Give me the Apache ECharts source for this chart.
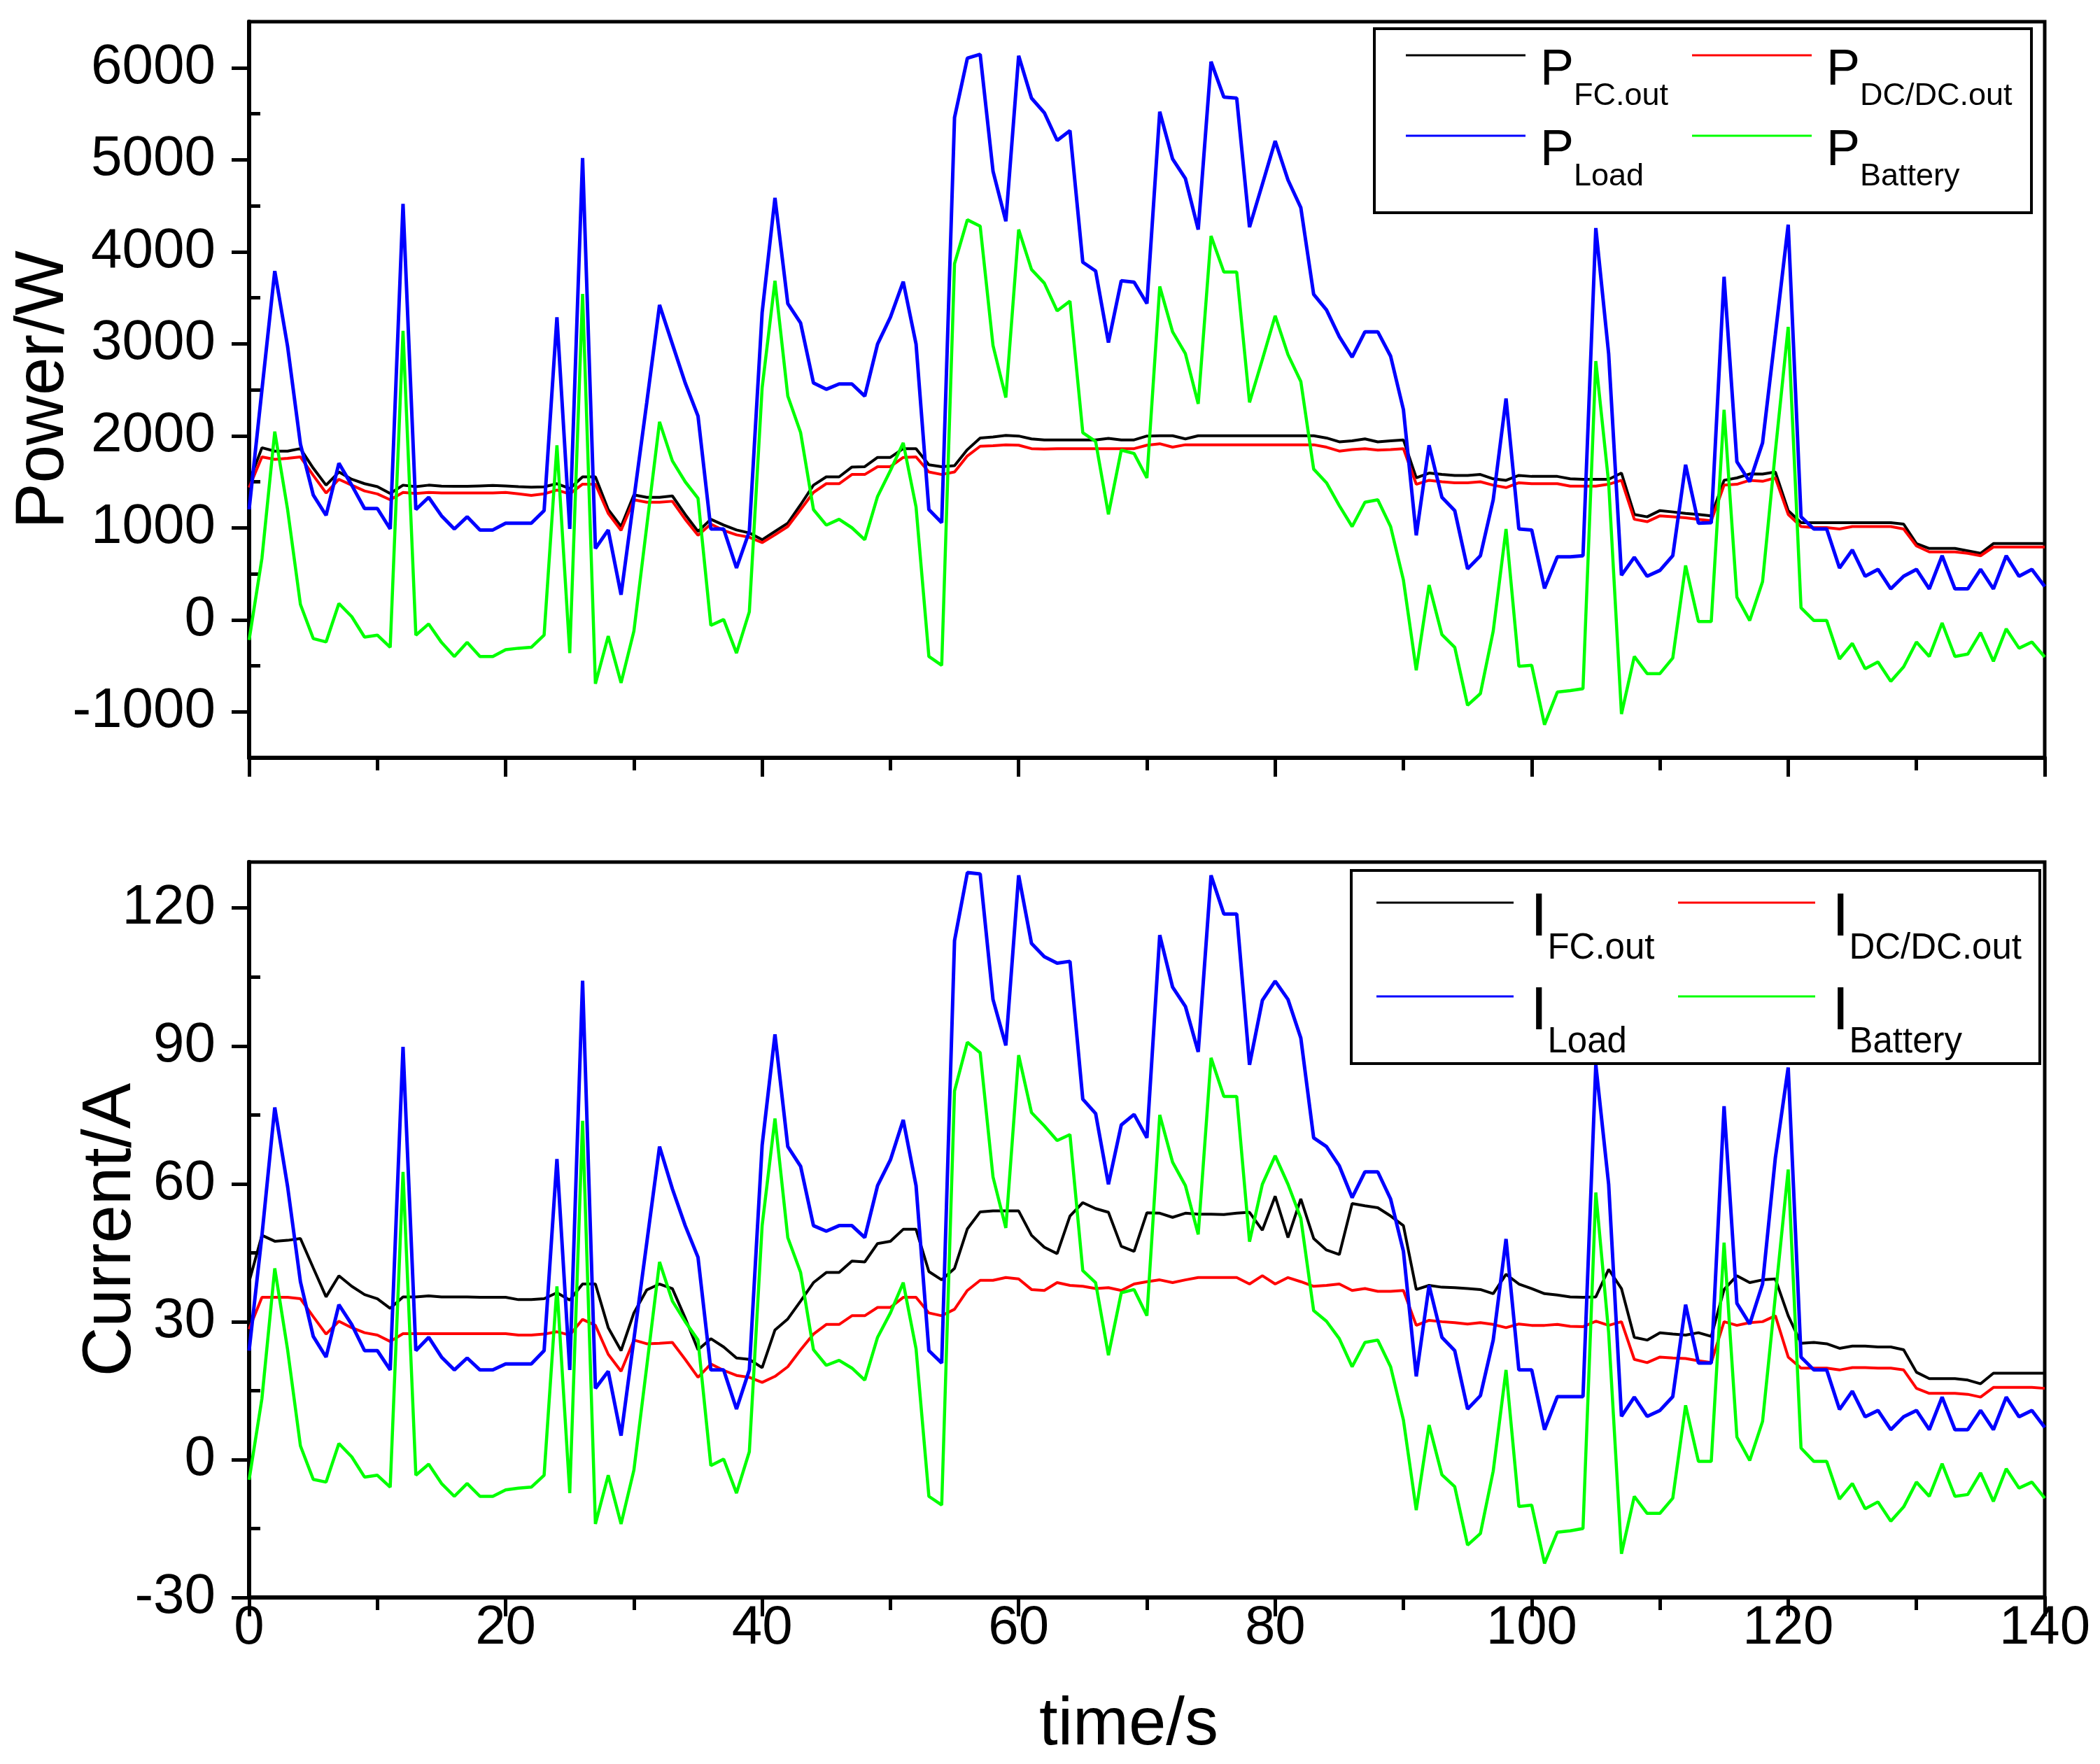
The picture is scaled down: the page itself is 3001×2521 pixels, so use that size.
<!DOCTYPE html>
<html>
<head>
<meta charset="utf-8">
<title>Power and current</title>
<script src="https://cdn.jsdelivr.net/npm/echarts@6/dist/echarts.min.js"></script>
<style>
  html, body { margin: 0; padding: 0; background: #fff; }
  #chart { width: 3001px; height: 2521px; }
</style>
</head>
<body>
<div id="chart"></div>
<script>
// sampling time (s)
const time = [
  0, 1, 2, 3, 4, 5, 6, 7, 8, 9,
  10, 11, 12, 13, 14, 15, 16, 17, 18, 19,
  20, 21, 22, 23, 24, 25, 26, 27, 28, 29,
  30, 31, 32, 33, 34, 35, 36, 37, 38, 39,
  40, 41, 42, 43, 44, 45, 46, 47, 48, 49,
  50, 51, 52, 53, 54, 55, 56, 57, 58, 59,
  60, 61, 62, 63, 64, 65, 66, 67, 68, 69,
  70, 71, 72, 73, 74, 75, 76, 77, 78, 79,
  80, 81, 82, 83, 84, 85, 86, 87, 88, 89,
  90, 91, 92, 93, 94, 95, 96, 97, 98, 99,
  100, 101, 102, 103, 104, 105, 106, 107, 108, 109,
  110, 111, 112, 113, 114, 115, 116, 117, 118, 119,
  120, 121, 122, 123, 124, 125, 126, 127, 128, 129,
  130, 131, 132, 133, 134, 135, 136, 137, 138, 139,
  140
]

// power (W)
const pFcOut = [
  1500, 1870, 1833, 1833, 1860, 1648, 1463, 1606, 1527, 1479,
  1447, 1373, 1463, 1447, 1463, 1452, 1450, 1450, 1455, 1460,
  1455, 1447, 1442, 1445, 1479, 1426, 1553, 1553, 1198, 1013,
  1357, 1331, 1331, 1346, 1145, 960, 1092, 1029, 976, 944,
  870, 960, 1050, 1251, 1463, 1553, 1553, 1660, 1664, 1765,
  1765, 1860, 1860, 1685, 1664, 1675, 1849, 1976, 1987, 2003,
  1997, 1966, 1955, 1955, 1955, 1955, 1955, 1971, 1955, 1955,
  1997, 2000, 2000, 1966, 2000, 2000, 2000, 2000, 2000, 2000,
  2000, 2000, 2000, 2000, 1976, 1934, 1945, 1966, 1934, 1945,
  1955, 1542, 1595, 1579, 1569, 1569, 1579, 1532, 1516, 1569,
  1558, 1558, 1558, 1532, 1527, 1527, 1527, 1595, 1145, 1119,
  1187, 1172, 1156, 1145, 1130, 1516, 1542, 1585, 1584, 1606,
  1187, 1055, 1055, 1055, 1055, 1055, 1055, 1055, 1055, 1040,
  828, 775, 775, 775, 749, 722, 828, 828, 828, 828,
  828
]
const pDcOut = [
  1437, 1770, 1743, 1754, 1770, 1569, 1378, 1527, 1463, 1400,
  1368, 1304, 1384, 1373, 1384, 1378, 1378, 1378, 1378, 1378,
  1384, 1368, 1352, 1368, 1410, 1368, 1474, 1474, 1156, 971,
  1304, 1278, 1278, 1288, 1092, 918, 1040, 971, 923, 897,
  839, 923, 1013, 1198, 1384, 1479, 1479, 1579, 1579, 1664,
  1664, 1765, 1770, 1606, 1579, 1606, 1781, 1886, 1892, 1902,
  1897, 1860, 1855, 1860, 1860, 1860, 1860, 1860, 1860, 1860,
  1897, 1913, 1876, 1902, 1902, 1902, 1902, 1902, 1902, 1902,
  1902, 1902, 1902, 1902, 1876, 1833, 1849, 1860, 1844, 1849,
  1860, 1473, 1516, 1500, 1489, 1489, 1500, 1463, 1437, 1489,
  1479, 1479, 1479, 1452, 1452, 1452, 1473, 1516, 1092, 1066,
  1130, 1119, 1108, 1092, 1076, 1463, 1473, 1516, 1505, 1542,
  1145, 1013, 1002, 1002, 987, 1013, 1013, 1013, 1013, 987,
  802, 738, 738, 738, 722, 696, 791, 791, 791, 791,
  791
]
const pLoad = [
  1200, 2500, 3790, 2970, 1910, 1357, 1135, 1701, 1463, 1209,
  1209, 987, 4521, 1198, 1331, 1130, 987, 1119, 976, 976,
  1050, 1050, 1050, 1187, 3288, 987, 5019, 775, 976, 272,
  1315, 2357, 3421, 2997, 2574, 2214, 987, 987, 563, 960,
  3341, 4585, 3437, 3225, 2574, 2505, 2563, 2563, 2431, 2997,
  3288, 3675, 2997, 1198, 1055, 5458, 6103, 6145, 4876, 4331,
  6130, 5669, 5511, 5209, 5315, 3886, 3791, 3013, 3685, 3669,
  3437, 5521, 5008, 4796, 4241, 6066, 5680, 5669, 4267, 4733,
  5204, 4780, 4479, 3537, 3368, 3077, 2854, 3130, 3130, 2865,
  2283, 918, 1897, 1331, 1187, 553, 696, 1304, 2405, 987,
  976, 341, 685, 685, 696, 4257, 2892, 484, 680, 473,
  537, 696, 1685, 1050, 1055, 3728, 1717, 1500, 1923, 3103,
  4294, 1119, 987, 987, 563, 759, 473, 548, 336, 473,
  548, 336, 696, 336, 336, 548, 336, 696, 473, 548,
  362
]
const pBattery = [
  -220, 669, 2045, 1198, 167, -204, -241, 177, 34, -188,
  -167, -299, 3140, -167, -45, -246, -399, -246, -399, -399,
  -325, -309, -299, -167, 1897, -362, 3542, -696, -177, -686,
  -124, 1013, 2151, 1727, 1500, 1320, -61, 3, -362, 87,
  2521, 3685, 2431, 2034, 1198, 1029, 1092, 1000, 870, 1341,
  1622, 1923, 1225, -399, -495, 3870, 4347, 4278, 2981, 2415,
  4241, 3807, 3659, 3357, 3463, 2034, 1939, 1145, 1844, 1807,
  1542, 3622, 3130, 2892, 2347, 4172, 3780, 3780, 2362, 2828,
  3304, 2881, 2590, 1638, 1489, 1241, 1013, 1278, 1304, 1013,
  431, -548, 378, -161, -299, -929, -802, -124, 987, -505,
  -495, -1140, -786, -770, -749, 2812, 1489, -1024, -399, -585,
  -585, -415, 590, -19, -19, 2283, 246, -8, 415, 1833,
  3183, 130, -8, -8, -426, -257, -532, -458, -669, -511,
  -241, -399, -34, -399, -373, -140, -452, -98, -309, -241,
  -405
]

// current (A)
const iFcOut = [
  38.7, 48.8, 47.5, 47.7, 48.1, 41.7, 35.4, 40.0, 37.7, 35.9,
  35.0, 32.9, 35.4, 35.4, 35.6, 35.4, 35.4, 35.4, 35.3, 35.3,
  35.3, 34.8, 34.8, 35.0, 36.3, 34.7, 38.2, 38.2, 28.7, 23.7,
  31.9, 36.9, 38.2, 37.2, 30.8, 23.9, 26.3, 24.5, 22.1, 21.8,
  20.0, 28.2, 30.6, 34.5, 38.5, 40.7, 40.7, 43.2, 43.0, 47.0,
  47.5, 50.1, 50.1, 40.9, 39.1, 41.6, 50.2, 53.9, 54.1, 54.1,
  54.1, 48.8, 46.2, 44.8, 53.0, 55.9, 54.6, 53.8, 46.4, 45.3,
  53.7, 53.6, 52.7, 53.6, 53.4, 53.4, 53.3, 53.6, 53.8, 49.9,
  57.3, 48.3, 56.7, 48.1, 45.6, 44.6, 55.7, 55.2, 54.8, 53.0,
  50.9, 37.0, 37.9, 37.5, 37.4, 37.2, 37.0, 36.1, 40.3, 38.2,
  37.2, 36.1, 35.8, 35.4, 35.3, 35.4, 41.4, 37.2, 26.6, 26.0,
  27.6, 27.3, 27.1, 27.6, 26.8, 37.0, 40.0, 38.5, 39.1, 39.3,
  31.3, 25.3, 25.5, 25.2, 24.2, 24.7, 24.7, 24.5, 24.5, 23.9,
  19.0, 17.6, 17.6, 17.6, 17.3, 16.5, 18.8, 18.8, 18.8, 18.8,
  18.8
]
const iDcOut = [
  28.4, 35.3, 35.3, 35.3, 35.0, 31.1, 27.3, 30.1, 28.7, 27.6,
  27.1, 25.7, 27.4, 27.4, 27.4, 27.4, 27.4, 27.4, 27.4, 27.4,
  27.4, 27.1, 27.1, 27.3, 27.8, 27.1, 30.5, 29.2, 22.9, 19.2,
  26.0, 25.2, 25.3, 25.5, 21.8, 17.9, 20.8, 19.4, 18.3, 17.9,
  16.8, 18.1, 20.2, 23.9, 27.3, 29.4, 29.4, 31.3, 31.3, 33.1,
  33.1, 35.3, 35.3, 31.9, 31.3, 32.7, 36.8, 39.0, 39.0, 39.6,
  39.3, 37.0, 36.8, 38.5, 37.9, 37.7, 37.2, 37.4, 36.8, 38.2,
  38.7, 39.1, 38.5, 39.1, 39.6, 39.6, 39.6, 39.6, 38.2, 40.0,
  38.2, 39.6, 38.7, 37.7, 37.9, 38.2, 36.8, 37.2, 36.6, 36.6,
  36.8, 29.2, 30.3, 30.0, 29.8, 29.5, 29.8, 29.4, 28.7, 29.5,
  29.2, 29.2, 29.4, 29.0, 28.9, 30.1, 29.2, 30.0, 21.8, 21.1,
  22.3, 22.1, 22.0, 21.5, 21.1, 30.0, 29.2, 29.8, 30.0, 31.3,
  22.3, 19.9, 19.9, 19.9, 19.5, 20.0, 20.0, 19.9, 19.9, 19.5,
  15.5, 14.4, 14.4, 14.4, 14.2, 13.6, 15.7, 15.7, 15.7, 15.7,
  15.5
]
const iLoad = [
  23.7, 48.8, 76.6, 59.4, 38.7, 26.8, 22.3, 33.7, 29.4, 23.7,
  23.7, 19.5, 89.8, 23.7, 26.6, 22.3, 19.5, 22.1, 19.5, 19.5,
  20.8, 20.8, 20.8, 23.7, 65.4, 19.5, 104.2, 15.5, 19.2, 5.2,
  26.2, 47.1, 68.1, 58.9, 50.9, 44.0, 19.5, 19.5, 11.0, 19.5,
  68.4, 92.5, 68.1, 63.8, 50.9, 49.7, 50.9, 50.9, 48.3, 59.6,
  65.2, 73.9, 59.6, 23.7, 21.0, 112.9, 127.7, 127.4, 100.1, 90.1,
  127.1, 112.3, 109.4, 108.0, 108.4, 78.4, 75.3, 59.9, 72.8, 75.1,
  70.0, 114.1, 102.8, 98.6, 88.7, 127.1, 118.7, 118.7, 85.9, 99.9,
  104.1, 100.1, 91.7, 70.0, 68.1, 63.9, 57.0, 62.6, 62.6, 56.7,
  45.3, 18.1, 37.9, 26.6, 23.7, 11.0, 13.9, 26.0, 48.0, 19.5,
  19.5, 6.5, 13.7, 13.7, 13.7, 85.9, 59.9, 9.4, 13.6, 9.4,
  10.7, 13.7, 33.7, 21.0, 21.0, 76.9, 34.0, 29.5, 38.2, 65.7,
  85.3, 22.3, 19.5, 19.5, 10.9, 14.9, 9.3, 10.7, 6.5, 9.3,
  10.7, 6.5, 13.6, 6.5, 6.5, 10.7, 6.5, 13.6, 9.3, 10.7,
  7.0
]
const iBattery = [
  -4.4, 13.3, 41.6, 23.9, 3.0, -4.3, -4.9, 3.5, 0.6, -3.8,
  -3.4, -6.0, 62.6, -3.4, -1.0, -5.2, -8.0, -5.2, -8.0, -8.0,
  -6.6, -6.2, -6.0, -3.4, 37.7, -7.3, 73.7, -14.0, -3.4, -14.0,
  -2.3, 20.2, 43.0, 34.5, 30.0, 26.0, -1.3, 0.1, -7.3, 1.7,
  50.9, 74.2, 48.3, 40.7, 23.9, 20.5, 21.6, 19.9, 17.3, 26.6,
  31.9, 38.5, 24.1, -8.0, -9.9, 80.2, 90.8, 88.5, 61.5, 50.4,
  88.0, 75.5, 72.6, 69.4, 70.7, 41.1, 38.5, 22.7, 36.3, 37.0,
  31.3, 75.0, 64.7, 59.6, 49.0, 87.4, 79.0, 79.0, 47.4, 59.9,
  66.1, 59.9, 52.5, 32.4, 30.1, 26.3, 20.2, 25.5, 26.0, 20.2,
  8.6, -11.0, 7.5, -3.3, -5.9, -18.6, -16.1, -2.5, 19.5, -10.2,
  -9.9, -22.6, -15.8, -15.5, -15.0, 58.1, 27.6, -20.5, -8.0, -11.7,
  -11.7, -8.4, 11.8, -0.4, -0.4, 47.2, 4.9, -0.2, 8.3, 35.6,
  63.1, 2.5, -0.4, -0.4, -8.6, -5.2, -10.7, -9.2, -13.4, -10.3,
  -4.9, -8.0, -0.9, -8.0, -7.6, -2.9, -9.1, -2.0, -6.2, -4.9,
  -8.4
]

// tick values
const powerMajor = [-1000, 0, 1000, 2000, 3000, 4000, 5000, 6000]
const powerMinor = [-500, 500, 1500, 2500, 3500, 4500, 5500]
const currentMajor = [-30, 0, 30, 60, 90, 120]
const currentMinor = [-15, 15, 45, 75, 105]

const seriesNames = ['FC.out', 'DC/DC.out', 'Load', 'Battery']
const seriesColors = ['#000000', '#ff0000', '#0000ff', '#00ff00']
const seriesWidths = [4, 4, 5, 4.5]

const FONT = '"Liberation Sans", Arial, sans-serif'

const pairs = (vals) => vals.map((v, i) => [time[i], v])

const chart = echarts.init(document.getElementById('chart'), null, { renderer: 'canvas' })

const xAxisCommon = (gridIndex, showLabel) => ({
  type: 'value',
  gridIndex: gridIndex,
  min: 0,
  max: 140,
  interval: 20,
  axisLine: { show: true, onZero: false, lineStyle: { color: '#000', width: 6 } },
  axisTick: { show: true, length: 27, lineStyle: { color: '#000', width: 5 } },
  minorTick: { show: true, splitNumber: 2, length: 18, lineStyle: { color: '#000', width: 5 } },
  splitLine: { show: false },
  axisLabel: {
    show: showLabel,
    fontSize: 78,
    color: '#000',
    fontFamily: FONT,
    margin: 5,
    formatter: (v) => String(v)
  }
})

const yMain = (gridIndex, min, max, major, name, nameGap) => ({
  type: 'value',
  gridIndex: gridIndex,
  min: min,
  max: max,
  name: name,
  nameLocation: 'middle',
  nameGap: nameGap,
  nameMoveOverlap: false,
  nameTextStyle: { fontSize: 98, color: '#000', fontFamily: FONT },
  axisLine: { show: true, onZero: false, lineStyle: { color: '#000', width: 6 } },
  axisTick: { show: true, length: 25, customValues: major, lineStyle: { color: '#000', width: 5 } },
  axisLabel: {
    show: true, customValues: major, fontSize: 80, color: '#000', fontFamily: FONT, margin: 48,
    formatter: (v) => String(v)
  },
  splitLine: { show: false }
})

const yMinor = (gridIndex, min, max, minor) => ({
  type: 'value',
  gridIndex: gridIndex,
  min: min,
  max: max,
  axisLine: { show: false },
  axisTick: { show: true, length: 16, customValues: minor, lineStyle: { color: '#000', width: 5 } },
  axisLabel: { show: false },
  splitLine: { show: false }
})

// legend: one component per entry so the two columns line up
const legendEntry = (letter, idx, left, top, cfg) => ({
  data: [letter + seriesNames[idx]],
  left: left,
  top: top,
  padding: 0,
  icon: 'rect',
  itemWidth: cfg.lineLen,
  itemHeight: 3,
  selectedMode: false,
  formatter: () => '{p|' + letter + '}{s|' + seriesNames[idx] + '}',
  textStyle: {
    rich: {
      p: {
        fontSize: cfg.big, lineHeight: cfg.big, fontFamily: FONT, color: '#000',
        verticalAlign: 'top', padding: [cfg.padP, 0, 0, cfg.padL]
      },
      s: {
        fontSize: cfg.small, lineHeight: cfg.small, fontFamily: FONT, color: '#000',
        verticalAlign: 'top', padding: [cfg.padS, 0, 0, 0]
      }
    }
  }
})

const topCfg = { lineLen: 171, big: 72, small: 45, padP: 22, padS: 72, padL: 16 }
const botCfg = { lineLen: 196, big: 88, small: 51, padP: 23, padS: 84, padL: 19 }

const legends = [
  legendEntry('P', 0, 2009, 43, topCfg),
  legendEntry('P', 1, 2418, 43, topCfg),
  legendEntry('P', 2, 2009, 158, topCfg),
  legendEntry('P', 3, 2418, 158, topCfg),
  legendEntry('I', 0, 1967, 1246, botCfg),
  legendEntry('I', 1, 2398, 1246, botCfg),
  legendEntry('I', 2, 1967, 1380, botCfg),
  legendEntry('I', 3, 2398, 1380, botCfg)
]

const powerData = [pFcOut, pDcOut, pLoad, pBattery]
const currentData = [iFcOut, iDcOut, iLoad, iBattery]

const series = []
powerData.forEach((vals, k) => {
  series.push({
    name: 'P' + seriesNames[k],
    type: 'line',
    xAxisIndex: 0,
    yAxisIndex: 0,
    data: pairs(vals),
    symbol: 'none',
    color: seriesColors[k],
    lineStyle: { color: seriesColors[k], width: seriesWidths[k] },
    z: 2 + k
  })
})
currentData.forEach((vals, k) => {
  series.push({
    name: 'I' + seriesNames[k],
    type: 'line',
    xAxisIndex: 1,
    yAxisIndex: 2,
    data: pairs(vals),
    symbol: 'none',
    color: seriesColors[k],
    lineStyle: { color: seriesColors[k], width: seriesWidths[k] },
    z: 2 + k
  })
})

const bottomX = xAxisCommon(1, true)
bottomX.name = 'time/s'
bottomX.nameLocation = 'middle'
bottomX.nameGap = 136
bottomX.nameMoveOverlap = false
bottomX.nameTextStyle = { fontSize: 96, color: '#000', fontFamily: FONT, padding: [0, 52, 0, 0] }

chart.setOption({
  animation: false,
  backgroundColor: '#fff',
  grid: [
    { left: 356, top: 31, width: 2566, height: 1052, show: true, borderColor: '#000', borderWidth: 5, outerBoundsMode: 'none' },
    { left: 356, top: 1232, width: 2566, height: 1051, show: true, borderColor: '#000', borderWidth: 5, outerBoundsMode: 'none' }
  ],
  xAxis: [xAxisCommon(0, false), bottomX],
  yAxis: [
    yMain(0, -1500, 6500, powerMajor, 'Power/W', 244),
    yMinor(0, -1500, 6500, powerMinor),
    yMain(1, -30, 130, currentMajor, 'Current/A', 148),
    yMinor(1, -30, 130, currentMinor)
  ],
  legend: legends,
  graphic: [
    { type: 'rect', shape: { x: 1964, y: 41, width: 939, height: 263 }, style: { fill: 'none', stroke: '#000', lineWidth: 4 }, z: 10 },
    { type: 'rect', shape: { x: 1931, y: 1244, width: 984, height: 276 }, style: { fill: 'none', stroke: '#000', lineWidth: 4 }, z: 10 }
  ],
  series: series
})
</script>
</body>
</html>
